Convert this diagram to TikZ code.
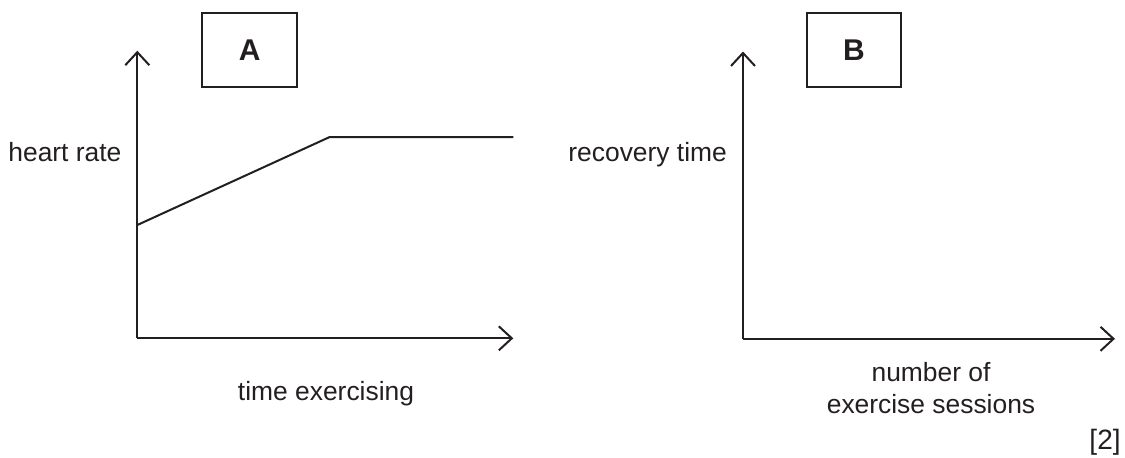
\documentclass[tikz,border=0pt]{standalone}
\usepackage{fontspec}
\setmainfont{Liberation Sans}
\usetikzlibrary{arrows.meta}
\definecolor{ink}{RGB}{35,31,32}
\begin{document}
\begin{tikzpicture}[x=0.5pt,y=-0.5pt,color=ink,
  axis/.style={line width=1pt,-{Straight Barb[length=6.5pt,width=12pt,line width=1pt]}},
  curveline/.style={line width=1pt,line join=miter},
  labelbox/.style={draw,line width=1pt,minimum width=47.3pt,minimum height=37pt,inner sep=0pt,
    font=\fontsize{15}{18}\selectfont\bfseries},
  lbl/.style={inner sep=0pt,font=\fontsize{13.2}{16.15}\selectfont}]
\useasboundingbox (0,0) rectangle (1125,457);
% panel A
\coordinate (oA) at (137.3,338.3);
\coordinate (yA) at (137.3,50.7);
\coordinate (xA) at (513.3,338.3);
\draw[axis] (oA) -- (yA);
\draw[axis] (oA) -- (xA);
\coordinate (p0) at (137.3,225);
\coordinate (p1) at (329.7,137);
\coordinate (p2) at (513.3,137);
\draw[curveline] (p0) -- (p1) -- (p2);
\node[labelbox] (boxA) at (249.7,50.3) {A};
\node[lbl,anchor=base west] (hr) at (8,161.7) {heart rate};
\node[lbl,anchor=base] (te) at (326,400) {time exercising};
% panel B
\coordinate (oB) at (743,338.8);
\coordinate (yB) at (743,51.5);
\coordinate (xB) at (1115,338.8);
\draw[axis] (oB) -- (yB);
\draw[axis] (oB) -- (xB);
\node[labelbox] (boxB) at (853.9,50.3) {B};
\node[lbl,anchor=base west] (rt) at (568,161.7) {recovery time};
\node[lbl,anchor=base,align=center] (nes) at (931,413.3) {number of\\exercise sessions};
\node[lbl,anchor=base east,font=\fontsize{14}{17}\selectfont] (mk) at (1121,449) {[2]};
\end{tikzpicture}
\end{document}
